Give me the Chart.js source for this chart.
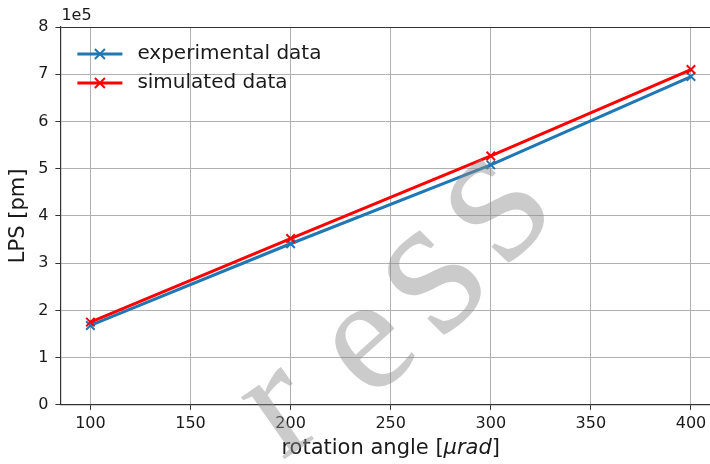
<!DOCTYPE html>
<html>
<head>
<meta charset="utf-8">
<script src="https://cdn.jsdelivr.net/npm/chart.js@4"></script>
<style>
  html, body { margin: 0; padding: 0; background: #fff; }
</style>
</head>
<body>
<canvas id="chart" width="710" height="464"></canvas>
<script>
// values (y in pm, shown as multiples of 1e5)
const angles = [100, 200, 300, 400];
const experimental = [168000, 341000, 508000, 695000];
const simulated = [175000, 352000, 527000, 710000];
const seriesNames = ["experimental data", "simulated data"];
const xTicks = [100, 150, 200, 250, 300, 350, 400];
const yTicks = [0, 100000, 200000, 300000, 400000, 500000, 600000, 700000, 800000];

const FONT = "'DejaVu Sans', sans-serif";
const DARK = "#1a1a1a";

const toPoints = (ys) => angles.map((a, i) => ({ x: a, y: ys[i] }));

// legend, offset text, x title with italic unit, watermark
const extras = {
  id: "extras",
  afterDraw(chart) {
    const ctx = chart.ctx;
    const area = chart.chartArea;
    const xs = chart.scales.x;
    ctx.save();

    // legend (no frame)
    chart.data.datasets.forEach((ds, i) => {
      const y = area.top + 27 + i * 29;
      const x0 = area.left + 17;
      ctx.strokeStyle = ds.borderColor;
      ctx.lineWidth = 3;
      ctx.beginPath();
      ctx.moveTo(x0, y);
      ctx.lineTo(x0 + 45, y);
      ctx.stroke();
      const cx = x0 + 22.5, r = 5;
      ctx.lineWidth = 2;
      ctx.beginPath();
      ctx.moveTo(cx - r, y - r); ctx.lineTo(cx + r, y + r);
      ctx.moveTo(cx - r, y + r); ctx.lineTo(cx + r, y - r);
      ctx.stroke();
      ctx.fillStyle = DARK;
      ctx.font = "20px " + FONT;
      ctx.textAlign = "left";
      ctx.textBaseline = "middle";
      ctx.fillText(ds.label, area.left + 77, y);
    });

    // offset text
    ctx.fillStyle = DARK;
    ctx.font = "16px " + FONT;
    ctx.textAlign = "left";
    ctx.textBaseline = "middle";
    ctx.fillText("1e5", area.left + 1, area.top - 11);

    // x axis title
    const parts = [
      ["rotation angle [", "21px " + FONT],
      ["\u03bcrad", "italic 21px " + FONT],
      ["]", "21px " + FONT]
    ];
    let total = 0;
    parts.forEach(p => { ctx.font = p[1]; total += ctx.measureText(p[0]).width; });
    let tx = xs.getPixelForValue(xTicks[3]) - total / 2;
    const ty = area.bottom + 44;
    parts.forEach(p => {
      ctx.font = p[1];
      ctx.fillText(p[0], tx, ty);
      tx += ctx.measureText(p[0]).width;
    });

    // watermark, letters laid along a slight arc
    const letters = [
      ["P", 168, 522, -30, 165],
      ["r", 283, 415, -35, 165],
      ["e", 372, 350, -42, 165],
      ["s", 435, 282, -45, 205],
      ["s", 498, 210, -47, 205]
    ];
    ctx.fillStyle = "rgba(140,140,140,0.45)";
    ctx.textAlign = "center";
    ctx.textBaseline = "alphabetic";
    letters.forEach(([ch, lx, ly, rot, size]) => {
      ctx.save();
      ctx.font = size + "px 'Liberation Serif', serif";
      ctx.translate(lx, ly);
      ctx.rotate(rot * Math.PI / 180);
      const h = ch === "P" ? 0.66 * size : 0.45 * size;
      ctx.fillText(ch, 0, h / 2);
      ctx.restore();
    });

    ctx.restore();
  }
};

new Chart(document.getElementById("chart"), {
  type: "line",
  data: {
    datasets: [
      {
        label: seriesNames[0],
        data: toPoints(experimental),
        borderColor: "#1f77b4",
        backgroundColor: "#1f77b4",
        borderWidth: 3,
        pointStyle: "crossRot",
        pointRadius: 6,
        pointBorderWidth: 2,
        order: 2
      },
      {
        label: seriesNames[1],
        data: toPoints(simulated),
        borderColor: "#ff0000",
        backgroundColor: "#ff0000",
        borderWidth: 3,
        pointStyle: "crossRot",
        pointRadius: 6,
        pointBorderWidth: 2,
        order: 1
      }
    ]
  },
  options: {
    responsive: false,
    animation: false,
    devicePixelRatio: 1,
    layout: { autoPadding: false, padding: { top: 27, right: 0, bottom: 27, left: 0 } },
    plugins: {
      legend: { display: false },
      tooltip: { enabled: false }
    },
    scales: {
      x: {
        type: "linear",
        min: 85,
        max: 409.5,
        afterBuildTicks: (s) => { s.ticks = xTicks.map(v => ({ value: v })); },
        afterFit: (s) => { s.paddingRight = 0; s.paddingLeft = 0; },
        grid: { color: "#b0b0b0", lineWidth: 1, tickLength: 5, tickColor: "#333" },
        border: { color: "#333", width: 1.2 },
        ticks: { font: { family: FONT, size: 16 }, color: DARK, padding: 4, maxRotation: 0 }
      },
      y: {
        min: 0,
        max: 800000,
        afterBuildTicks: (s) => { s.ticks = yTicks.map(v => ({ value: v })); },
        grid: {
          color: (c) => (c.tick && c.tick.value === 800000 ? "#333" : "#b0b0b0"),
          lineWidth: 1, tickLength: 5, tickColor: "#333"
        },
        border: { color: "#333", width: 1.2 },
        ticks: {
          font: { family: FONT, size: 16 }, color: DARK, padding: 7,
          callback: (v) => String(v / 100000)
        },
        title: {
          display: true, text: "LPS [pm]", color: DARK,
          font: { family: FONT, size: 21 },
          padding: { top: 6, bottom: 0 }
        }
      }
    }
  },
  plugins: [extras]
});
</script>
</body>
</html>
